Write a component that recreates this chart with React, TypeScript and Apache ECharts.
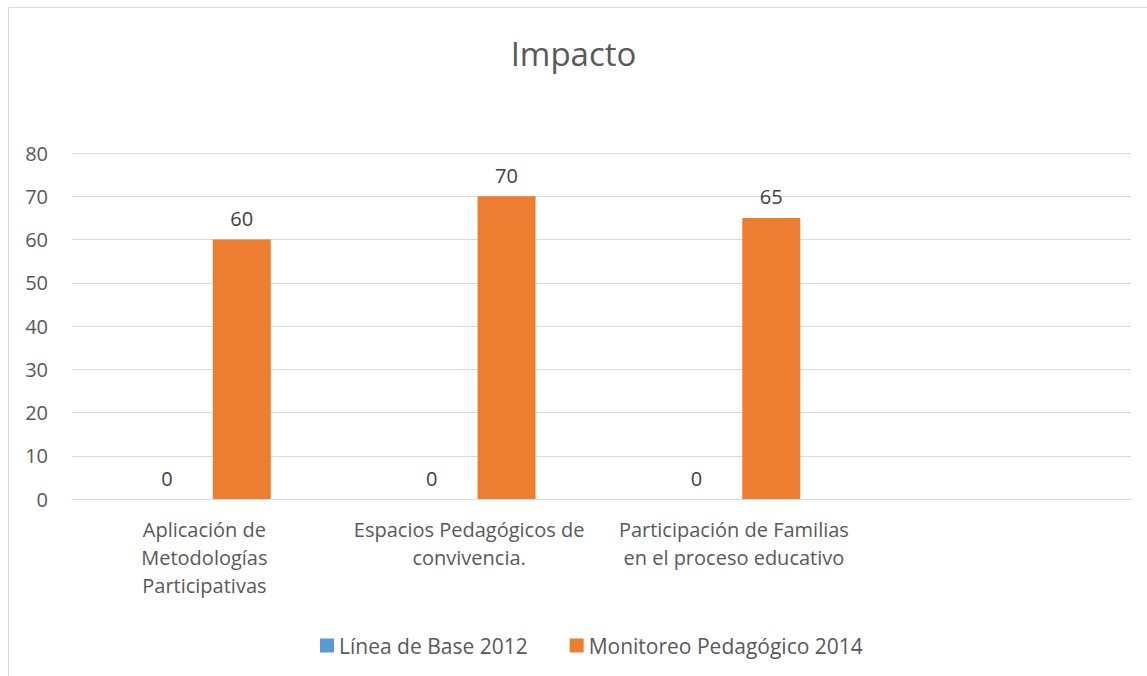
import React, { useEffect, useRef } from "react";
import * as echarts from "echarts";

const categories = [
  "Aplicación de\nMetodologías\nParticipativas",
  "Espacios Pedagógicos de\nconvivencia.",
  "Participación de Familias\nen el proceso educativo",
  "",
];
const seriesNames = ["Línea de Base 2012", "Monitoreo Pedagógico 2014"];
const baseline2012: (number | null)[] = [0, 0, 0, null];
const monitoreo2014: (number | null)[] = [60, 70, 65, null];
const colors = ["#5B9BD5", "#ED7D31"];
const FONT = "'Open Sans', Lato, sans-serif";

export default function App() {
  const ref = useRef<HTMLDivElement>(null);
  useEffect(() => {
    if (!ref.current) return;
    const chart = echarts.init(ref.current, undefined, { renderer: "svg" });
    const labelCfg = {
      show: true,
      position: "top" as const,
      distance: 11,
      color: "#404040",
      fontSize: 20,
      fontFamily: FONT,
    };
    chart.setOption({
      animation: false,
      backgroundColor: "#ffffff",
      title: {
        text: "Impacto",
        left: "center",
        top: 32,
        textStyle: { fontSize: 33, fontWeight: "normal", color: "#595959", fontFamily: FONT },
      },
      graphic: [
        {
          type: "rect",
          shape: { x: 8.5, y: 7.5, width: 1300, height: 900 },
          style: { fill: "none", stroke: "#d9d9d9", lineWidth: 1 },
          silent: true,
        },
      ],
      legend: {
        left: 315,
        top: 630,
        itemWidth: 14,
        itemHeight: 14,
        itemGap: 42,
        icon: "rect",
        textStyle: { fontSize: 21, color: "#595959", fontFamily: FONT },
        data: seriesNames,
      },
      grid: { left: 72, right: 16, top: 153, bottom: 177 },
      xAxis: {
        type: "category",
        data: categories,
        axisLine: { lineStyle: { color: "#d9d9d9" } },
        axisTick: { show: false },
        axisLabel: {
          interval: 0,
          color: "#595959",
          fontSize: 20,
          lineHeight: 28,
          margin: 16,
          fontFamily: FONT,
        },
      },
      yAxis: {
        type: "value",
        min: 0,
        max: 80,
        interval: 10,
        axisLine: { show: false },
        axisTick: { show: false },
        splitLine: { lineStyle: { color: "#d9d9d9" } },
        axisLabel: { color: "#595959", fontSize: 20, margin: 24, fontFamily: FONT },
      },
      series: [
        {
          name: seriesNames[0],
          type: "bar",
          data: baseline2012,
          barWidth: 58,
          barGap: "29%",
          itemStyle: { color: colors[0] },
          label: labelCfg,
        },
        {
          name: seriesNames[1],
          type: "bar",
          data: monitoreo2014,
          barWidth: 58,
          barGap: "29%",
          itemStyle: { color: colors[1] },
          label: labelCfg,
        },
      ],
    });
    return () => chart.dispose();
  }, []);
  return (
    <div
      ref={ref}
      style={{ position: "absolute", left: 0, top: 0, width: 1147, height: 676 }}
    />
  );
}
